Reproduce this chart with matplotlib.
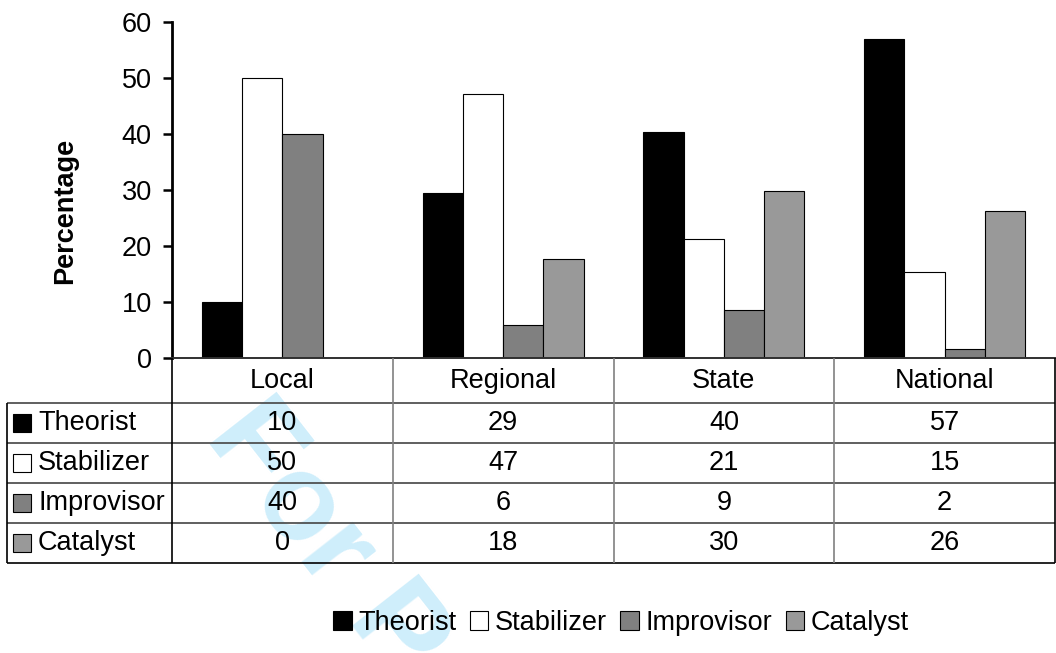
import matplotlib.pyplot as plt
from matplotlib.patches import Patch, Rectangle

plt.rcParams['font.family'] = ['Liberation Sans', 'DejaVu Sans']

levels = ['Local', 'Regional', 'State', 'National']
styles = ['Theorist', 'Stabilizer', 'Improvisor', 'Catalyst']
theorist = [10, 29.4, 40.4, 56.9]
stabilizer = [50, 47.1, 21.3, 15.3]
improvisor = [40, 5.8, 8.6, 1.6]
catalyst = [0, 17.6, 29.8, 26.2]
colors = ['black', 'white', '#808080', '#999999']

W, H = 1056, 653
FS = 19.5


def fx(px):
    return px / W


def fy(py):
    return 1 - py / H


fig = plt.figure(figsize=(W / 100, H / 100), dpi=100)

# faint review watermark behind everything
fig.text(fx(204), fy(437), 'For Peer Review', rotation=-52, rotation_mode='anchor',
         ha='left', va='baseline', fontsize=88, fontweight='bold', color='#cfeefb', zorder=-1)

# bar chart
ax = fig.add_axes([fx(172), fy(358), fx(1055) - fx(172), fy(21.7) - fy(358)])
ax.patch.set_visible(False)
series = [theorist, stabilizer, improvisor, catalyst]
bw = 0.1826
for j, (name, vals) in enumerate(zip(styles, series)):
    xs = [i + (j - 1.5) * bw for i in range(len(levels))]
    ax.bar(xs, vals, width=bw, color=colors[j], edgecolor='black', linewidth=0.8, label=name)

ax.set_xlim(-0.5, 3.5)
ax.set_ylim(0, 60)
ax.set_yticks(range(0, 61, 10))
ax.set_xticks([])
ax.spines['top'].set_visible(False)
ax.spines['right'].set_visible(False)
ax.spines['left'].set_linewidth(2.0)
ax.spines['bottom'].set_linewidth(1.4)
ax.spines['bottom'].set_color('#303030')
ax.tick_params(axis='y', direction='out', length=6.5, width=1.8, pad=8, labelsize=FS)
ax.set_ylabel('Percentage', fontsize=FS, fontweight='bold')
ax.yaxis.set_label_coords(-0.1065, 0.437)

# data table under the bars, columns aligned with the categories
tab = fig.add_axes([fx(7), fy(563), fx(1055) - fx(7), fy(358) - fy(563)])
col_px = (1055 - 172) / 4
label_w = (172 - 7) / col_px
x0 = -0.5 - label_w
tab.set_xlim(x0, 3.5)
tab.set_ylim(0, 5.125)
tab.axis('off')

line_kw = dict(clip_on=False, solid_capstyle='butt')
tab.plot([x0, 3.5], [0, 0], color='black', lw=1.2, **line_kw)
for y in [1, 2, 3, 4]:
    tab.plot([x0, 3.5], [y, y], color='#444444', lw=1.2, **line_kw)
tab.plot([x0, x0], [0, 4], color='black', lw=1.2, **line_kw)
tab.plot([-0.5, -0.5], [0, 5.125], color='black', lw=1.2, **line_kw)
for x in [0.5, 1.5, 2.5]:
    tab.plot([x, x], [0, 5.125], color='#808080', lw=1.2, **line_kw)
tab.plot([3.5, 3.5], [0, 5.125], color='black', lw=1.2, **line_kw)

for i, lev in enumerate(levels):
    tab.text(i, 4.5625, lev, ha='center', va='center', fontsize=FS)

for r, (name, vals) in enumerate(zip(styles, series)):
    yc = 3.5 - r
    tab.add_patch(Rectangle((x0 + 6 / col_px, yc - 0.225), 18 / col_px, 0.45,
                            facecolor=colors[r], edgecolor='black', lw=0.8, clip_on=False))
    tab.text(x0 + 31 / col_px, yc, name, ha='left', va='center', fontsize=FS)
    for i, v in enumerate(vals):
        tab.text(i, yc, f'{v:.0f}', ha='center', va='center', fontsize=FS)

handles = [Patch(facecolor=c, edgecolor='black', lw=0.8) for c in colors]
fig.legend(handles, styles, loc='center', bbox_to_anchor=(fx(621), fy(623)), ncol=4,
           frameon=False, fontsize=FS, handlelength=0.667, handleheight=0.667,
           handletextpad=0.25, columnspacing=0.5, borderpad=0)

fig.savefig('out.png', dpi=100)
